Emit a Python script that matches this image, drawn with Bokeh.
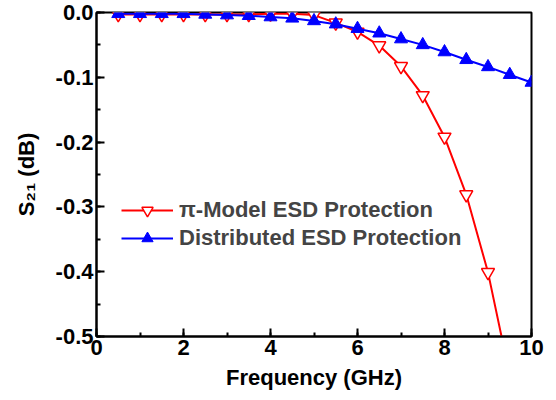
from bokeh.plotting import figure
from bokeh.models import ColumnDataSource, Legend, LegendItem, SingleIntervalTicker, NumeralTickFormatter, Range1d
from bokeh.embed import file_html
from bokeh.resources import INLINE

freq = [0.5, 1.0, 1.5, 2.0, 2.5, 3.0, 3.5, 4.0, 4.5, 5.0, 5.5, 6.0, 6.5, 7.0, 7.5, 8.0, 8.5, 9.0, 9.5, 10.0]
pi_model = [-0.003, -0.003, -0.003, -0.003, -0.003, -0.003, -0.003, -0.002, -0.002, -0.004,
            -0.016, -0.030, -0.051, -0.083, -0.128, -0.192, -0.281, -0.401, -0.56, None]
distributed = [-0.002, -0.002, -0.002, -0.002, -0.003, -0.004, -0.005, -0.007, -0.009, -0.013,
               -0.018, -0.025, -0.032, -0.041, -0.050, -0.061, -0.073, -0.084, -0.096, -0.108]
labels = ["\u03c0-Model ESD Protection", "Distributed ESD Protection"]

FONT = "Liberation Sans"

p = figure(width=556, height=400, output_backend="svg", toolbar_location=None,
           x_range=Range1d(0, 10), y_range=Range1d(-0.5, 0.0),
           min_border_left=96, min_border_right=25, min_border_top=12, min_border_bottom=64)
p.xgrid.visible = False
p.ygrid.visible = False
p.outline_line_color = "black"
p.outline_line_width = 2

pi_x = [f for f, v in zip(freq, pi_model) if v is not None]
pi_y = [v for v in pi_model if v is not None]
src_pi = ColumnDataSource(dict(x=pi_x, y=pi_y))
src_d = ColumnDataSource(dict(x=freq, y=distributed))

r1l = p.line("x", "y", source=src_pi, line_color="#ff0000", line_width=2)
r1m = p.scatter("x", "y", source=src_pi, marker="inverted_triangle", size=13,
                line_color="#ff0000", fill_color="white", line_width=1.5)
r2l = p.line("x", "y", source=src_d, line_color="#0000ff", line_width=2)
r2m = p.scatter("x", "y", source=src_d, marker="triangle", size=13,
                line_color="#0000ff", fill_color="#0000ff", line_width=1)

for ax in (p.xaxis[0], p.yaxis[0]):
    ax.axis_line_width = 2
    ax.major_tick_line_width = 2
    ax.minor_tick_line_width = 2
    ax.major_tick_in = 8
    ax.major_tick_out = 0
    ax.minor_tick_in = 4
    ax.minor_tick_out = 0
    ax.major_label_text_font = FONT
    ax.major_label_text_font_style = "bold"
    ax.major_label_text_font_size = "22px"
    ax.major_label_text_color = "black"
    ax.axis_label_text_font = FONT
    ax.axis_label_text_font_style = "bold"
    ax.axis_label_text_font_size = "22px"
    ax.axis_label_text_color = "black"

p.xaxis.ticker = SingleIntervalTicker(interval=2, num_minor_ticks=2)
p.yaxis.ticker = SingleIntervalTicker(interval=0.1, num_minor_ticks=2)
p.yaxis.formatter = NumeralTickFormatter(format="0.0")
p.xaxis.axis_label = "Frequency (GHz)"
p.yaxis.axis_label = "S\u2082\u2081 (dB)"
p.xaxis.major_label_standoff = 3
p.xaxis.axis_label_standoff = 7
p.yaxis.major_label_standoff = 3
p.yaxis.axis_label_standoff = 14

legend = Legend(items=[LegendItem(label=labels[0], renderers=[r1l, r1m]),
                       LegendItem(label=labels[1], renderers=[r2l, r2m])],
                location=(25, 84), border_line_color=None, background_fill_alpha=0,
                margin=0, padding=0, spacing=0, glyph_width=52, glyph_height=28,
                label_height=28, label_standoff=6,
                label_text_font=FONT, label_text_font_style="bold", label_text_font_size="22px")
p.add_layout(legend, "center")

open("out.html", "w").write(file_html(p, INLINE))
